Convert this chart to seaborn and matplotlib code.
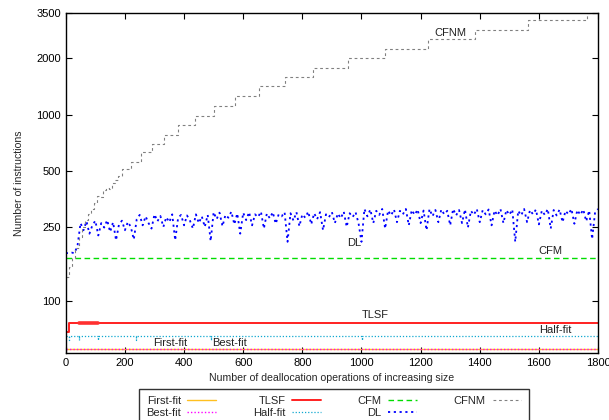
"""
Instruction counts of deallocation operations for several allocators,
redrawn with seaborn on a log y axis.
"""

import matplotlib
matplotlib.use("Agg")
import matplotlib.pyplot as plt
import seaborn as sns
from matplotlib.ticker import NullLocator

# data
x_max = 1800

first_fit = 55.5
best_fit = 55.5

half_fit = 65.0
half_fit_low = 62.0
half_fit_dips = [10, 44, 108, 237, 492, 1003]

tlsf_x = [0, 11, 11, 45, 110, 1800]
tlsf_y = [68, 68, 76.5, 76.5, 76.5, 76.5]
# the early stretch where TLSF looks thick
tlsf_thick_x = [45, 110]
tlsf_thick_y = [76.8, 76.8]

cfm = 171

# DL sampled every 10 operations
dl_step = 10
dl_values = [
    181, 181, 182, 181, 200, 262, 240, 268, 230, 255,
    270, 225, 262, 248, 272, 235, 265, 212, 258, 270,
    240, 266, 250, 214, 275, 290, 255, 285, 262, 245,
    292, 268, 286, 250, 282, 265, 292, 212, 280, 290,
    255, 288, 270, 245, 292, 262, 285, 250, 290, 210,
    300, 275, 298, 252, 290, 280, 302, 258, 295, 230,
    298, 272, 300, 255, 292, 282, 302, 245, 295, 278,
    300, 260, 292, 285, 300, 208, 296, 270, 300, 252,
    292, 280, 302, 258, 296, 275, 300, 240, 292, 282,
    300, 262, 295, 278, 302, 250, 296, 282, 300, 262,
    208, 312, 285, 310, 262, 305, 290, 312, 245, 306,
    288, 310, 265, 305, 292, 312, 255, 308, 290, 310,
    262, 306, 240, 312, 285, 308, 265, 310, 292, 305,
    255, 312, 288, 308, 262, 310, 248, 305, 290, 312,
    265, 308, 292, 310, 255, 306, 288, 312, 262, 308,
    290, 310, 208, 305, 288, 312, 265, 308, 292, 310,
    258, 306, 290, 312, 245, 308, 288, 310, 265, 305,
    292, 312, 260, 308, 290, 310, 268, 306, 215, 300,
    312,
]

cfnm_x = [0, 10, 20, 30, 44, 55, 65, 75, 85, 95,
          105, 115, 125, 135, 145, 155, 165, 175, 190, 220,
          254, 292, 332, 380, 437, 502, 573, 654, 742, 837,
          953, 1081, 1224, 1383, 1563, 1763, 1800]
cfnm_y = [135, 152, 170, 192, 220, 250, 272, 295, 310, 335,
          368, 360, 392, 405, 398, 432, 445, 470, 513, 557,
          627, 696, 781, 876, 988, 1118, 1260, 1414, 1580, 1767,
          2000, 2256, 2530, 2840, 3200, 3490, 3490]

y_ticks = [100, 250, 500, 1000, 2000, 3500]
x_ticks = list(range(0, 2000, 200))

# label positions on the plot (data coordinates)
curve_labels = [
    ("CFNM", 1300, 2720),
    ("DL", 975, 205),
    ("CFM", 1640, 185),
    ("TLSF", 1045, 84),
    ("Half-fit", 1655, 70),
    ("First-fit", 353, 59.5),
    ("Best-fit", 553, 59.5),
]

sns.set_style("ticks")
plt.rcParams['font.family'] = ['Liberation Sans', 'DejaVu Sans']
plt.rcParams['xtick.direction'] = 'in'
plt.rcParams['ytick.direction'] = 'in'
plt.rcParams['xtick.top'] = True
plt.rcParams['ytick.right'] = True

fig = plt.figure(figsize=(6.09, 4.2), dpi=100)
ax = fig.add_axes([0.108, 0.160, 0.874, 0.809])

# build the series
dl_x = [i * dl_step for i in range(len(dl_values))]

half_x = [0]
half_y = [half_fit]
for d in half_fit_dips:
    half_x += [d, d, d]
    half_y += [half_fit, half_fit_low, half_fit]
half_x.append(x_max)
half_y.append(half_fit)

sns.lineplot(x=[0, x_max], y=[first_fit, first_fit], ax=ax, color='#ffc020',
             lw=1.0, label='First-fit', estimator=None)
sns.lineplot(x=[0, x_max], y=[best_fit, best_fit], ax=ax, color='#ff00ff',
             lw=1.0, linestyle=(0, (1, 1.5)), label='Best-fit',
             estimator=None)
sns.lineplot(x=tlsf_x, y=tlsf_y, ax=ax, color='#ff2020', lw=1.4,
             label='TLSF', estimator=None, sort=False)
sns.lineplot(x=tlsf_thick_x, y=tlsf_thick_y, ax=ax, color='#ff3030', lw=2.6,
             label='_nolegend_', estimator=None)
sns.lineplot(x=half_x, y=half_y, ax=ax, color='#10a8d0', lw=0.9,
             linestyle=(0, (1, 1.5)), label='Half-fit', estimator=None, sort=False)
sns.lineplot(x=[0, x_max], y=[cfm, cfm], ax=ax, color='#00dd00', lw=1.0,
             linestyle=(0, (4, 2.5)), label='CFM', estimator=None)
sns.lineplot(x=dl_x, y=dl_values, ax=ax, color='#0000ff', lw=1.3,
             linestyle=(0, (1.2, 2)), label='DL', estimator=None)
sns.lineplot(x=cfnm_x, y=cfnm_y, ax=ax, color='#808080', lw=0.8,
             linestyle=(0, (2.5, 2.5)), drawstyle='steps-post', label='CFNM',
             estimator=None)

ax.set_yscale('log')
ax.set_ylim(52.9, 3500)
ax.set_xlim(0, x_max)
ax.set_yticks(y_ticks)
ax.set_yticklabels([str(v) for v in y_ticks])
ax.yaxis.set_minor_locator(NullLocator())
ax.set_xticks(x_ticks)
ax.tick_params(labelsize=8, length=4, width=0.8, colors='black')
for spine in ax.spines.values():
    spine.set_linewidth(1.0)
    spine.set_color('black')

ax.set_xlabel('Number of deallocation operations of increasing size',
              fontsize=7.6, labelpad=4)
ax.set_ylabel('Number of instructions', fontsize=7.6, labelpad=9)

for text, tx, ty in curve_labels:
    ax.text(tx, ty, text, fontsize=8, ha='center', va='center', color='#222222')

handles, labels = ax.get_legend_handles_labels()
if ax.get_legend() is not None:
    ax.get_legend().remove()
leg = fig.legend(handles, labels, loc='upper center', bbox_to_anchor=(0.548, 0.074),
                 ncol=4, fontsize=8, markerfirst=False, frameon=True,
                 fancybox=False, edgecolor='black', borderpad=0.65,
                 labelspacing=0.15, handlelength=2.6, handletextpad=0.6,
                 columnspacing=3.3, borderaxespad=0)
leg.get_frame().set_linewidth(1.0)

fig.savefig('out.png', dpi=100)
